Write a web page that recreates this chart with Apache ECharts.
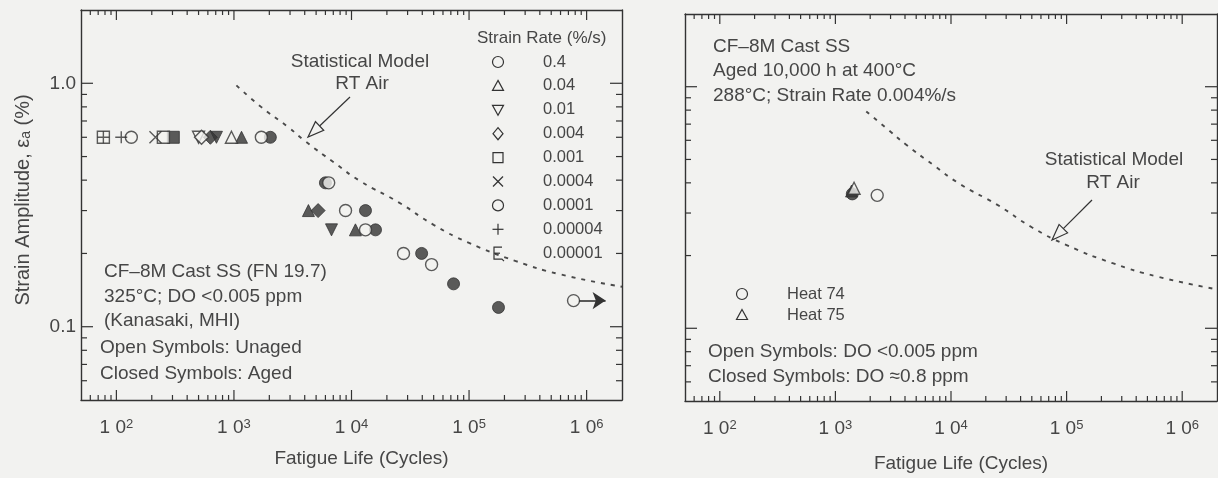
<!DOCTYPE html>
<html><head><meta charset="utf-8">
<script src="https://cdn.jsdelivr.net/npm/echarts@6/dist/echarts.min.js"></script>
<style>html,body{margin:0;padding:0;background:#f2f2f0}#c{width:1218px;height:478px}</style>
</head><body><div id="c"></div>
<script>
// ---------------- data ----------------
const xMajorTicks = [100, 1000, 10000, 100000, 1000000];
const xTickExponents = ['2', '3', '4', '5', '6'];
const xMinorTicks = [60, 70, 80, 90, 200, 300, 400, 500, 600, 700, 800, 900,
  2000, 3000, 4000, 5000, 6000, 7000, 8000, 9000, 20000, 30000, 40000, 50000, 60000, 70000, 80000, 90000,
  200000, 300000, 400000, 500000, 600000, 700000, 800000, 900000];
const yMajorTicks = [0.1, 1];
const yTickLabels = ['0.1', '1.0'];
const yMinorTicks = [0.06, 0.07, 0.08, 0.09, 0.2, 0.3, 0.4, 0.5, 0.6, 0.7, 0.8, 0.9];

// left panel: Kanasaki, MHI (open = unaged, closed = aged)
const unagedCircle04 = [[1710, 0.6], [6400, 0.39], [8900, 0.30], [13150, 0.25], [27700, 0.20], [48000, 0.18], [774000, 0.128]];
const agedCircle04 = [[2040, 0.6], [6000, 0.39], [13150, 0.30], [16000, 0.25], [39500, 0.20], [73800, 0.15], [178000, 0.12]];
const unagedTri004 = [[952, 0.6]];
const agedTri004 = [[1160, 0.6], [4300, 0.30], [10800, 0.25]];
const unagedInv001 = [[500, 0.6]];
const agedInv001 = [[710, 0.6], [6760, 0.25]];
const unagedDia0004 = [[530, 0.6]];
const agedDia0004 = [[630, 0.6], [5200, 0.30]];
const unagedSq0001 = [[77.5, 0.6], [251, 0.6]];
const agedSq0001 = [[305, 0.6]];
const unagedX00004 = [[215, 0.6]];
const unagedCircle00001 = [[134, 0.6]];
const unagedPlus000004 = [[77.5, 0.6], [110, 0.6]];
const runoutArrowFrom = [863000, 0.128];
const runoutArrowTo = [1450000, 0.128];

// right panel: aged 10,000 h at 400 C, 288 C
const heat74Open = [[2300, 0.355]];
const heat74Closed = [[1400, 0.36]];
const heat75Open = [[1450, 0.38]];
const heat75Closed = [[1380, 0.37]];

// statistical model (RT air) curve
const modelN = [1050, 1700, 2900, 4100, 7000, 12000, 25000, 50000, 100000, 250000, 600000, 2000000];
const modelEps = [0.98, 0.80, 0.66, 0.575, 0.475, 0.395, 0.325, 0.262, 0.221, 0.186, 0.164, 0.146];
const modelNRight = [1850, 2900, 4100, 7000, 12000, 25000, 50000, 100000, 250000, 600000, 2000000];
const modelEpsRight = [0.79, 0.66, 0.575, 0.475, 0.395, 0.325, 0.262, 0.221, 0.186, 0.164, 0.145];

const legendTitle = 'Strain Rate (%/s)';
const legendLabels = ['0.4', '0.04', '0.01', '0.004', '0.001', '0.0004', '0.0001', '0.00004', '0.00001'];
const legendSymbols = ['circle', 'tri', 'inv', 'dia', 'sq', 'cross', 'circle', 'plus', 'eps'];

// ---------------- styling ----------------
const BG = '#f2f2f0', INK = '#333333', TXT = '#464646';
const FONT = '"Liberation Sans", Arial, Helvetica, sans-serif';
const X_MIN = 50, X_MAX = 2000000, Y_MIN = 0.05, Y_MAX = 2;

const SYM = {
  circle: 'circle',
  tri: 'triangle',
  inv: 'path://M0,0L10,0L5,9Z',
  dia: 'diamond',
  sq: 'rect',
  cross: 'path://M1,1L9,9M9,1L1,9',
  plus: 'path://M5,0L5,10M0,5L10,5'
};

function isPow(v, t) { return Math.abs(Math.log10(v) - Math.log10(t)) < 1e-6; }
function zip(a, b) { return a.map((v, i) => [v, b[i]]); }

function tickData() {
  const d = [];
  xMajorTicks.forEach(v => d.push([v, 1, 0, 10]));
  xMinorTicks.forEach(v => d.push([v, 1, 0, 5]));
  yMajorTicks.forEach(v => d.push([1000, v, 1, 12]));
  yMinorTicks.forEach(v => d.push([1000, v, 1, 6]));
  return d;
}

function renderTicks(params, api) {
  const cs = params.coordSys;
  const kind = api.value(2), len = api.value(3);
  const p = api.coord([api.value(0), api.value(1)]);
  const st = { stroke: INK, lineWidth: 1.2 };
  if (kind === 0) {
    const x = p[0];
    return { type: 'group', children: [
      { type: 'line', shape: { x1: x, y1: cs.y + cs.height, x2: x, y2: cs.y + cs.height - len }, style: st },
      { type: 'line', shape: { x1: x, y1: cs.y, x2: x, y2: cs.y + len }, style: st }
    ] };
  }
  const y = p[1];
  return { type: 'group', children: [
    { type: 'line', shape: { x1: cs.x, y1: y, x2: cs.x + len, y2: y }, style: st },
    { type: 'line', shape: { x1: cs.x + cs.width, y1: y, x2: cs.x + cs.width - len, y2: y }, style: st }
  ] };
}

function sc(name, data, sym, filled, gi, extra) {
  const s = {
    type: 'scatter', name, data, xAxisIndex: gi * 2, yAxisIndex: gi * 2,
    symbol: SYM[sym], symbolSize: sym === 'dia' ? 14 : 12, silent: true,
    itemStyle: filled ? { color: INK, borderColor: INK, borderWidth: 1 }
                      : { color: (sym === 'cross' || sym === 'plus') ? 'rgba(0,0,0,0)' : BG, borderColor: INK, borderWidth: 1.4 },
    z: filled ? 3 : 4
  };
  return Object.assign(s, extra || {});
}

function xAxisCfg(gi, bottom, name, gap) {
  const line = { show: true, onZero: false, lineStyle: { color: INK, width: 1.4 } };
  return {
    type: 'log', logBase: 10, min: X_MIN, max: X_MAX, gridIndex: gi,
    position: bottom ? 'bottom' : 'top',
    axisLine: line, axisTick: { show: false }, splitLine: { show: false },
    name: bottom ? name : '', nameLocation: 'middle', nameGap: gap,
    nameTextStyle: { fontSize: 19, fontFamily: FONT, color: TXT, padding: [0, 0, 0, 20] },
    axisLabel: bottom ? {
      show: true, margin: 18, showMinLabel: false, showMaxLabel: false,
      formatter: v => { const i = xMajorTicks.findIndex(t => isPow(v, t)); return i < 0 ? '' : '{b|1 0}{s|' + xTickExponents[i] + '}'; },
      rich: { b: { fontSize: 19, fontFamily: FONT, color: TXT }, s: { fontSize: 13, fontFamily: FONT, color: TXT, verticalAlign: 'top' } }
    } : { show: false }
  };
}

function yAxisCfg(gi, left, labels, name) {
  const line = { show: true, onZero: false, lineStyle: { color: INK, width: 1.4 } };
  return {
    type: 'log', logBase: 10, min: Y_MIN, max: Y_MAX, gridIndex: gi,
    position: left ? 'left' : 'right',
    axisLine: line, axisTick: { show: false }, splitLine: { show: false },
    name: name || '', nameLocation: 'middle', nameGap: 48, nameRotate: 90,
    nameTextStyle: { fontSize: 20, fontFamily: FONT, color: TXT, padding: [0, 0, 0, 10],
      rich: { n: { fontSize: 20, fontFamily: FONT, color: TXT }, sub: { fontSize: 14, fontFamily: FONT, color: TXT, verticalAlign: 'bottom' } } },
    axisLabel: labels ? {
      show: true, margin: 5, showMinLabel: false, showMaxLabel: false, fontSize: 19, fontFamily: FONT, color: TXT,
      formatter: v => { const i = yMajorTicks.findIndex(t => isPow(v, t)); return i < 0 ? '' : yTickLabels[i]; }
    } : { show: false }
  };
}

// ---------------- annotations (graphic) ----------------
function T(x, y, text, size, align) {
  return { type: 'text', x, y, z: 10, silent: true,
    style: { text, fontSize: size, fontFamily: FONT, fill: TXT, align: align || 'left', verticalAlign: 'middle' } };
}
function arrow(x1, y1, x2, y2) {
  const dx = x2 - x1, dy = y2 - y1, L = Math.hypot(dx, dy), ux = dx / L, uy = dy / L, px = -uy, py = ux;
  const hl = 16, hw = 6;
  const bx = x2 - ux * hl, by = y2 - uy * hl;
  return [
    { type: 'line', z: 10, silent: true, shape: { x1, y1, x2: bx, y2: by }, style: { stroke: INK, lineWidth: 1.2 } },
    { type: 'polygon', z: 10, silent: true, shape: { points: [[x2, y2], [bx + px * hw, by + py * hw], [bx - px * hw, by - py * hw]] },
      style: { fill: BG, stroke: INK, lineWidth: 1.2 } }
  ];
}
function off(pts, x, y) { return pts.map(p => [p[0] + x, p[1] + y]); }
function legSym(kind, x, y) {
  const st = { fill: BG, stroke: INK, lineWidth: 1.2 };
  const ln = { stroke: INK, lineWidth: 1.2 };
  if (kind === 'circle') return [{ type: 'circle', z: 10, silent: true, shape: { cx: x, cy: y, r: 5.5 }, style: st }];
  if (kind === 'tri') return [{ type: 'polygon', z: 10, silent: true, shape: { points: off([[0, -5.5], [5.5, 4.5], [-5.5, 4.5]], x, y) }, style: st }];
  if (kind === 'inv') return [{ type: 'polygon', z: 10, silent: true, shape: { points: off([[-5.5, -4.5], [5.5, -4.5], [0, 5.5]], x, y) }, style: st }];
  if (kind === 'dia') return [{ type: 'polygon', z: 10, silent: true, shape: { points: off([[0, -6], [5, 0], [0, 6], [-5, 0]], x, y) }, style: st }];
  if (kind === 'sq') return [{ type: 'rect', z: 10, silent: true, shape: { x: x - 5, y: y - 5, width: 10, height: 10 }, style: st }];
  if (kind === 'cross') return [
    { type: 'line', z: 10, silent: true, shape: { x1: x - 5, y1: y - 5, x2: x + 5, y2: y + 5 }, style: ln },
    { type: 'line', z: 10, silent: true, shape: { x1: x + 5, y1: y - 5, x2: x - 5, y2: y + 5 }, style: ln }];
  if (kind === 'plus') return [
    { type: 'line', z: 10, silent: true, shape: { x1: x, y1: y - 5.5, x2: x, y2: y + 5.5 }, style: ln },
    { type: 'line', z: 10, silent: true, shape: { x1: x - 5.5, y1: y, x2: x + 5.5, y2: y }, style: ln }];
  return [
    { type: 'polyline', z: 10, silent: true, shape: { points: off([[4, -6], [-4, -6], [-4, 6], [4, 6], [6, 8]], x, y) }, style: ln },
    { type: 'line', z: 10, silent: true, shape: { x1: x - 4, y1: y, x2: x + 2, y2: y }, style: ln }];
}

const graphics = [];
// left panel
graphics.push(T(360, 62, 'Statistical Model', 19, 'center'));
graphics.push(T(362, 84, 'RT Air', 19, 'center'));
graphics.push(...arrow(350, 97, 308, 137));
graphics.push(T(104, 272, 'CF–8M Cast SS (FN 19.7)', 19));
graphics.push(T(104, 297, '325°C; DO <0.005 ppm', 19));
graphics.push(T(104, 321, '(Kanasaki, MHI)', 19));
graphics.push(T(100, 348, 'Open Symbols: Unaged', 19));
graphics.push(T(100, 374, 'Closed Symbols: Aged', 19));
graphics.push(T(477, 38, legendTitle, 17));
legendLabels.forEach((lab, i) => {
  const y = 62 + i * 23.9;
  graphics.push(...legSym(legendSymbols[i], 498, y));
  graphics.push(T(543, y, lab, 16.5));
});
// right panel
graphics.push(T(713, 47, 'CF–8M Cast SS', 19));
graphics.push(T(713, 71, 'Aged 10,000 h at 400°C', 19));
graphics.push(T(713, 96, '288°C; Strain Rate 0.004%/s', 19));
graphics.push(T(1114, 160, 'Statistical Model', 19, 'center'));
graphics.push(T(1113, 183, 'RT Air', 19, 'center'));
graphics.push(...arrow(1092, 200, 1052, 240));
graphics.push(...legSym('circle', 742, 294));
graphics.push(T(787, 294, 'Heat 74', 16.5));
graphics.push(...legSym('tri', 742, 315));
graphics.push(T(787, 315, 'Heat 75', 16.5));
graphics.push(T(708, 352, 'Open Symbols: DO <0.005 ppm', 19));
graphics.push(T(708, 377, 'Closed Symbols: DO ≈0.8 ppm', 19));

// ---------------- chart ----------------
const chart = echarts.init(document.getElementById('c'), null, { renderer: 'canvas' });
const modelStyle = { type: [4, 6], width: 1.9, color: '#4a4a4a' };
chart.setOption({
  backgroundColor: BG,
  animation: false,
  grid: [{ left: 81, top: 10, width: 541, height: 390 }, { left: 685, top: 14, width: 532, height: 388 }],
  xAxis: [
    xAxisCfg(0, true, 'Fatigue Life (Cycles)', 49),
    xAxisCfg(0, false),
    xAxisCfg(1, true, 'Fatigue Life (Cycles)', 53),
    xAxisCfg(1, false)
  ],
  yAxis: [
    yAxisCfg(0, true, true, '{n|Strain Amplitude, ε}{sub|a}{n| (%)}'),
    yAxisCfg(0, false, false),
    yAxisCfg(1, true, false),
    yAxisCfg(1, false, false)
  ],
  series: [
    { type: 'custom', name: 'ticksL', xAxisIndex: 0, yAxisIndex: 0, data: tickData(), renderItem: renderTicks,
      dimensions: ['x', 'y', 'k', 'l'], encode: { x: 0, y: 1 }, clip: false, silent: true, z: 5 },
    { type: 'custom', name: 'ticksR', xAxisIndex: 2, yAxisIndex: 2, data: tickData(), renderItem: renderTicks,
      dimensions: ['x', 'y', 'k', 'l'], encode: { x: 0, y: 1 }, clip: false, silent: true, z: 5 },
    { type: 'line', name: 'Statistical Model RT Air', xAxisIndex: 0, yAxisIndex: 0, data: zip(modelN, modelEps),
      smooth: true, showSymbol: false, symbol: 'none', lineStyle: modelStyle, silent: true, z: 1 },
    { type: 'line', name: 'Statistical Model RT Air (right)', xAxisIndex: 2, yAxisIndex: 2, data: zip(modelNRight, modelEpsRight),
      smooth: true, showSymbol: false, symbol: 'none', lineStyle: modelStyle, silent: true, z: 1 },
    sc('0.4 aged', agedCircle04, 'circle', true, 0),
    sc('0.4 unaged', unagedCircle04, 'circle', false, 0, {
      markLine: { silent: true, symbol: ['none', 'arrow'], symbolSize: 13, label: { show: false },
        lineStyle: { type: 'solid', color: INK, width: 1.6 },
        data: [[{ coord: runoutArrowFrom }, { coord: runoutArrowTo }]] } }),
    sc('0.04 unaged', unagedTri004, 'tri', false, 0),
    sc('0.04 aged', agedTri004, 'tri', true, 0),
    sc('0.01 unaged', unagedInv001, 'inv', false, 0),
    sc('0.01 aged', agedInv001, 'inv', true, 0),
    sc('0.004 unaged', unagedDia0004, 'dia', false, 0),
    sc('0.004 aged', agedDia0004, 'dia', true, 0),
    sc('0.001 unaged', unagedSq0001, 'sq', false, 0),
    sc('0.001 aged', agedSq0001, 'sq', true, 0),
    sc('0.0004 unaged', unagedX00004, 'cross', false, 0),
    sc('0.0001 unaged', unagedCircle00001, 'circle', false, 0),
    sc('0.00004 unaged', unagedPlus000004, 'plus', false, 0),
    sc('Heat 74 DO<0.005', heat74Open, 'circle', false, 1),
    sc('Heat 75 DO<0.005', heat75Open, 'tri', false, 1),
    sc('Heat 75 DO 0.8', heat75Closed, 'tri', true, 1),
    sc('Heat 74 DO 0.8', heat74Closed, 'circle', true, 1)
  ],
  graphic: graphics
});
</script></body></html>
